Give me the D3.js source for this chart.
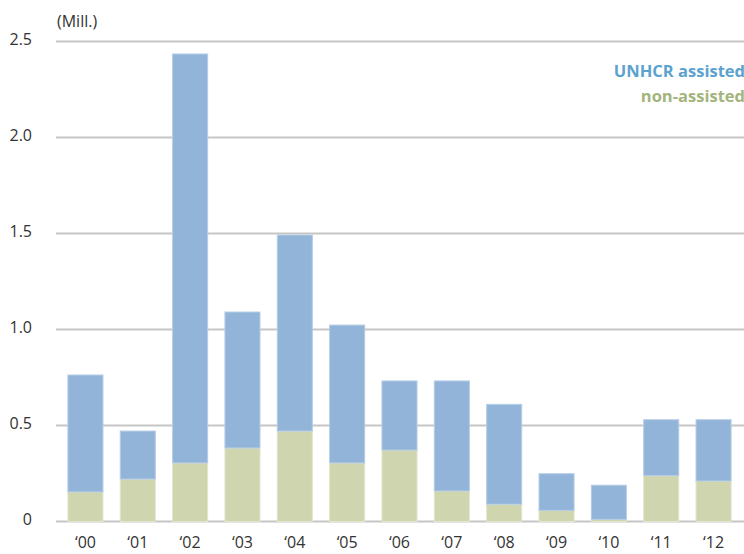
<!DOCTYPE html>
<html><head><meta charset="utf-8">
<script src="https://cdn.jsdelivr.net/npm/d3@7"></script>
<style>
body{margin:0;background:#fff;}
text{font-family:"Open Sans","Noto Sans",sans-serif;}
</style></head>
<body><svg id="c" width="744" height="554"></svg>
<script>
const categories = ["\u201800","\u201801","\u201802","\u201803","\u201804","\u201805","\u201806","\u201807","\u201808","\u201809","\u201810","\u201811","\u201812"];
const nonAssisted = [0.154,0.221,0.305,0.383,0.471,0.305,0.372,0.159,0.090,0.058,0.011,0.239,0.211];
const totals = [0.763,0.471,2.435,1.091,1.492,1.023,0.732,0.732,0.610,0.249,0.189,0.530,0.530];
const unhcrAssisted = totals.map((t,i)=>+(t-nonAssisted[i]).toFixed(3));
const yTicks = [0,0.5,1.0,1.5,2.0,2.5];
const yTickLabels = ["0","0.5","1.0","1.5","2.0","2.5"];

const svg = d3.select("#c");
const y = d3.scaleLinear().domain([0,2.5]).range([521.5,41.5]);
const x = d3.scaleBand().domain(categories).range([59,740]).paddingInner(0.33).paddingOuter(0.17);

const grid = svg.append("g");
grid.selectAll("line").data(yTicks).join("line")
  .attr("x1",56).attr("x2",744)
  .attr("y1",d=>y(d)).attr("y2",d=>y(d))
  .attr("stroke","#c6c6c6").attr("stroke-width",2);

const yAxis = d3.axisLeft(y).tickValues(yTicks).tickFormat((d,i)=>yTickLabels[i]).tickSize(0).tickPadding(0);
const ya = svg.append("g").attr("transform","translate(32,0)").call(yAxis);
ya.select(".domain").remove();
ya.selectAll("text").attr("font-size",16).attr("fill","#333").attr("dy","0.2em");

const stack = categories.map((c,i)=>({c, na:nonAssisted[i], ua:unhcrAssisted[i]}));
const bars = svg.append("g");
bars.selectAll("rect.na").data(stack).join("rect").attr("class","na")
  .attr("x",d=>x(d.c)).attr("width",x.bandwidth())
  .attr("y",d=>y(d.na)).attr("height",d=>y(0)-y(d.na))
  .attr("fill","#cfd5ae").attr("stroke","#e2e6cd").attr("stroke-width",1);
bars.selectAll("rect.ua").data(stack).join("rect").attr("class","ua")
  .attr("x",d=>x(d.c)).attr("width",x.bandwidth())
  .attr("y",d=>y(d.na+d.ua)).attr("height",d=>y(d.na)-y(d.na+d.ua))
  .attr("fill","#92b4d8").attr("stroke","#b6cde6").attr("stroke-width",1);

const xAxis = d3.axisBottom(x).tickSize(0).tickPadding(0);
const xa = svg.append("g").attr("transform","translate(0,537)").call(xAxis);
xa.select(".domain").remove();
xa.selectAll("text").attr("font-size",16).attr("fill","#333").attr("dy","0.71em");

svg.append("text").attr("x",57).attr("y",27).attr("font-size",16).attr("fill","#333").text("(Mill.)");
svg.append("text").attr("x",745).attr("y",77).attr("text-anchor","end").attr("font-size",16.5).attr("font-weight","bold").attr("fill","#5ba2cf").text("UNHCR assisted");
svg.append("text").attr("x",745).attr("y",102).attr("text-anchor","end").attr("font-size",16.5).attr("font-weight","bold").attr("fill","#a3b47c").text("non-assisted");
</script></body></html>
